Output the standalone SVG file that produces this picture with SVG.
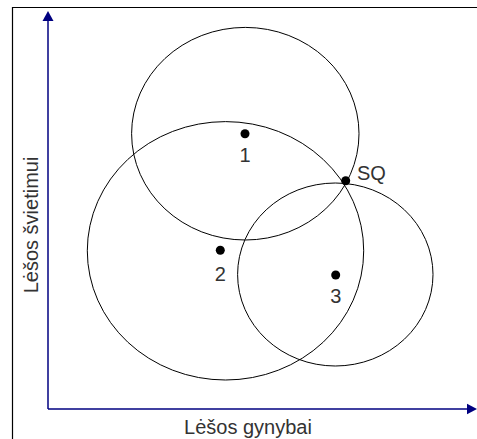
<svg xmlns="http://www.w3.org/2000/svg" width="477" height="439" viewBox="0 0 477 439">
<style>
.ax{stroke:#000080;stroke-width:1.5;fill:none}
.c{stroke:#000;stroke-width:1;fill:none}
.pt{fill:#000}
.t{font-family:"Liberation Sans",Arial,sans-serif;font-size:20px;fill:#333}
</style>
<rect x="0" y="0" width="477" height="439" fill="#fff"/>
<path d="M12.5,439 V7.5 H477" stroke="#000" stroke-width="1.2" fill="none"/>
<g id="connectors">
<line class="ax" x1="48" y1="409" x2="48" y2="20"/>
<polygon points="48,11 42.5,21 53.5,21" fill="#000080"/>
<line class="ax" x1="48" y1="409" x2="468" y2="409"/>
<polygon points="477,409 467,403.7 467,414.3" fill="#000080"/>
</g>
<g id="circle1"><ellipse class="c" cx="245.3" cy="133.7" rx="113.7" ry="106.3"/></g>
<g id="circle2"><ellipse class="c" cx="225.5" cy="250.8" rx="138.2" ry="129.2"/></g>
<g id="circle3"><ellipse class="c" cx="335.3" cy="274.5" rx="97.7" ry="91.5"/></g>
<g id="p1"><circle class="pt" cx="245" cy="133.7" r="4.5"/><text class="t" x="245" y="162" text-anchor="middle">1</text></g>
<g id="p2"><circle class="pt" cx="220.3" cy="250.3" r="4.5"/><text class="t" x="220.3" y="281" text-anchor="middle">2</text></g>
<g id="p3"><circle class="pt" cx="335.7" cy="275" r="4.5"/><text class="t" x="335.7" y="303" text-anchor="middle">3</text></g>
<g id="sq"><circle class="pt" cx="345.7" cy="180.7" r="4.5"/><text class="t" x="357" y="180">SQ</text></g>
<g id="xlabel"><text class="t" x="248" y="434" text-anchor="middle">Lėšos gynybai</text></g>
<g id="ylabel"><text class="t" transform="translate(38,225) rotate(-90)" text-anchor="middle">Lėšos švietimui</text></g>
</svg>
